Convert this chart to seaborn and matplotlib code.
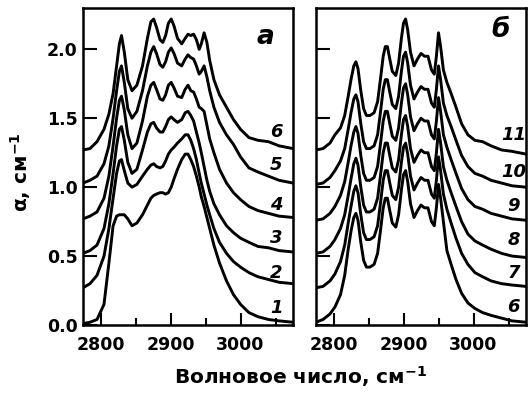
import numpy as np
import pandas as pd
import matplotlib
matplotlib.use('Agg')
import matplotlib.pyplot as plt
import seaborn as sns

# волновые числа, панель а
wn_a = [2775, 2785, 2795, 2805, 2812, 2818, 2823, 2827, 2830, 2834, 2839, 2845, 2852, 2860,
        2867, 2872, 2876, 2880, 2885, 2889, 2893, 2897, 2901, 2905, 2910, 2916, 2921, 2925,
        2929, 2933, 2937, 2941, 2944, 2948, 2952, 2956, 2962, 2970, 2980, 2990, 3000, 3012,
        3025, 3040, 3055, 3075]

a1 = [0.01, 0.02, 0.04, 0.15, 0.45, 0.72, 0.79, 0.80, 0.80, 0.80, 0.77, 0.72, 0.74, 0.80,
      0.87, 0.92, 0.94, 0.95, 0.96, 0.96, 0.95, 0.96, 1.00, 1.06, 1.13, 1.20, 1.24, 1.24,
      1.20, 1.15, 1.08, 1.00, 0.93, 0.86, 0.78, 0.70, 0.58, 0.45, 0.32, 0.22, 0.15, 0.09,
      0.06, 0.04, 0.03, 0.02]
a2 = [0.27, 0.30, 0.36, 0.50, 0.70, 0.92, 1.10, 1.19, 1.20, 1.12, 1.03, 1.00, 1.02, 1.08,
      1.13, 1.16, 1.17, 1.15, 1.14, 1.15, 1.19, 1.24, 1.27, 1.29, 1.32, 1.35, 1.38, 1.38,
      1.34, 1.28, 1.20, 1.10, 1.03, 0.95, 0.87, 0.80, 0.70, 0.60, 0.52, 0.46, 0.42, 0.38,
      0.35, 0.33, 0.31, 0.30]
a3 = [0.52, 0.54, 0.58, 0.70, 0.88, 1.10, 1.30, 1.42, 1.44, 1.34, 1.18, 1.10, 1.13, 1.27,
      1.40, 1.46, 1.47, 1.43, 1.40, 1.40, 1.44, 1.49, 1.51, 1.49, 1.47, 1.49, 1.54, 1.55,
      1.52, 1.48, 1.40, 1.32, 1.25, 1.15, 1.05, 0.97, 0.88, 0.80, 0.72, 0.67, 0.63, 0.60,
      0.57, 0.56, 0.54, 0.53]
a4 = [0.77, 0.79, 0.82, 0.92, 1.08, 1.30, 1.50, 1.63, 1.66, 1.56, 1.38, 1.28, 1.32, 1.48,
      1.66, 1.74, 1.76, 1.71, 1.64, 1.63, 1.67, 1.74, 1.76, 1.72, 1.66, 1.65, 1.71, 1.74,
      1.70, 1.69, 1.64, 1.58, 1.57, 1.55, 1.45, 1.35, 1.25, 1.13, 1.03, 0.96, 0.91, 0.86,
      0.83, 0.81, 0.79, 0.78]
a5 = [1.03, 1.05, 1.08, 1.17, 1.30, 1.50, 1.70, 1.84, 1.88, 1.76, 1.57, 1.50, 1.55, 1.70,
      1.88, 1.98, 2.02, 1.97, 1.89, 1.87, 1.91, 1.98, 2.01, 1.97, 1.90, 1.88, 1.93, 1.96,
      1.94, 1.93, 1.88, 1.82, 1.84, 1.88, 1.80, 1.70, 1.58, 1.47, 1.38, 1.31, 1.22, 1.14,
      1.11, 1.08, 1.05, 1.03]
a6 = [1.27, 1.28, 1.33, 1.42, 1.53, 1.68, 1.88, 2.04, 2.10, 1.98, 1.78, 1.70, 1.74, 1.88,
      2.08, 2.20, 2.22, 2.16, 2.07, 2.05, 2.10, 2.19, 2.22, 2.17, 2.08, 2.04, 2.08, 2.11,
      2.10, 2.11, 2.07, 2.00, 2.04, 2.12, 2.05, 1.92, 1.78, 1.67, 1.58, 1.49, 1.42, 1.36,
      1.34, 1.33, 1.30, 1.28]

# волновые числа, панель б
wn_b = [2775, 2785, 2795, 2802, 2810, 2816, 2821, 2825, 2829, 2832, 2835, 2839, 2843, 2847,
        2852, 2858, 2863, 2867, 2871, 2874, 2877, 2880, 2884, 2889, 2893, 2897, 2900, 2903,
        2906, 2910, 2915, 2920, 2925, 2930, 2935, 2940, 2944, 2947, 2950, 2953, 2957, 2962,
        2968, 2975, 2983, 2992, 3002, 3013, 3025, 3040, 3055, 3075]

b6 = [0.02, 0.04, 0.08, 0.13, 0.22, 0.36, 0.55, 0.68, 0.78, 0.81,
      0.76, 0.60, 0.47, 0.42, 0.42, 0.44, 0.52, 0.68, 0.85, 0.92, 0.92, 0.84, 0.74, 0.71,
      0.80, 0.98, 1.09, 1.12, 1.04, 0.88, 0.78, 0.83, 0.87, 0.85, 0.85, 0.75, 0.72, 0.85,
      1.02, 0.92, 0.75,
      0.54, 0.44, 0.33, 0.23, 0.16, 0.12, 0.09, 0.07, 0.05, 0.03, 0.02]
b7 = [0.27, 0.28, 0.32, 0.37, 0.46, 0.58, 0.74, 0.86, 0.97, 1.01,
      0.96, 0.80, 0.67, 0.62, 0.62, 0.64, 0.72, 0.88, 1.05, 1.12, 1.12, 1.04, 0.94, 0.91,
      1.00, 1.18, 1.29, 1.32, 1.24, 1.08, 0.98, 1.03, 1.07, 1.05, 1.05, 0.95, 0.92, 1.05,
      1.22, 1.12, 0.95,
      0.84, 0.74, 0.63, 0.52, 0.44, 0.38, 0.35, 0.32, 0.30, 0.29, 0.28]
b8 = [0.52, 0.53, 0.57, 0.62, 0.70, 0.80, 0.94, 1.06, 1.17, 1.21,
      1.16, 1.00, 0.87, 0.82, 0.82, 0.84, 0.92, 1.08, 1.25, 1.32, 1.32, 1.24, 1.14, 1.11,
      1.20, 1.38, 1.49, 1.52, 1.44, 1.28, 1.18, 1.23, 1.27, 1.25, 1.25, 1.15, 1.12, 1.25,
      1.42, 1.32, 1.15,
      1.05, 0.96, 0.86, 0.75, 0.66, 0.61, 0.58, 0.55, 0.52, 0.50, 0.49]
b9 = [0.76, 0.77, 0.81, 0.86, 0.94, 1.04, 1.18, 1.30, 1.40, 1.44,
      1.39, 1.23, 1.10, 1.05, 1.05, 1.07, 1.15, 1.31, 1.48, 1.55, 1.55, 1.47, 1.37, 1.34,
      1.43, 1.61, 1.72, 1.75, 1.67, 1.51, 1.41, 1.46, 1.50, 1.48, 1.48, 1.38, 1.35, 1.48,
      1.65, 1.55, 1.38,
      1.29, 1.20, 1.10, 0.99, 0.91, 0.86, 0.84, 0.81, 0.79, 0.77, 0.76]
b10 = [1.02, 1.03, 1.07, 1.12, 1.19, 1.28, 1.42, 1.54, 1.64, 1.67,
       1.62, 1.46, 1.33, 1.28, 1.28, 1.30, 1.38, 1.54, 1.71, 1.78, 1.78, 1.70, 1.60, 1.57,
       1.66, 1.84, 1.95, 1.98, 1.90, 1.74, 1.64, 1.69, 1.73, 1.71, 1.71, 1.61, 1.58, 1.71,
       1.88, 1.78, 1.61,
       1.52, 1.44, 1.34, 1.23, 1.15, 1.10, 1.08, 1.05, 1.03, 1.01, 1.00]
b11 = [1.27, 1.28, 1.32, 1.38, 1.43, 1.52, 1.66, 1.78, 1.88, 1.91,
       1.86, 1.70, 1.57, 1.52, 1.52, 1.54, 1.62, 1.78, 1.95, 2.02, 2.02, 1.94, 1.84, 1.81,
       1.90, 2.08, 2.19, 2.22, 2.14, 1.98, 1.88, 1.93, 1.97, 1.95, 1.95, 1.85, 1.82, 1.95,
       2.12, 2.02, 1.85,
       1.76, 1.68, 1.58, 1.46, 1.38, 1.34, 1.33, 1.30, 1.27, 1.26, 1.24]

labels_a = ['1', '2', '3', '4', '5', '6']
label_y_a = [0.12, 0.38, 0.63, 0.87, 1.16, 1.40]
labels_b = ['6', '7', '8', '9', '10', '11']
label_y_b = [0.13, 0.38, 0.62, 0.86, 1.11, 1.38]

sns.set_style('ticks')
plt.rcParams['font.family'] = ['DejaVu Sans']
plt.rcParams['font.weight'] = 'bold'
plt.rcParams['text.color'] = 'black'
plt.rcParams['xtick.color'] = 'black'
plt.rcParams['ytick.color'] = 'black'
plt.rcParams['mathtext.fontset'] = 'custom'
plt.rcParams['mathtext.rm'] = 'DejaVu Sans:bold'
plt.rcParams['mathtext.default'] = 'rm'

fig = plt.figure(figsize=(5.28, 3.94), dpi=100)
ax_a = fig.add_axes([83/528, 1 - 325/394, 210/528, 317/394])
ax_b = fig.add_axes([316/528, 1 - 325/394, 210/528, 317/394])

for ys in [a1, a2, a3, a4, a5, a6]:
    sns.lineplot(x=wn_a, y=ys, ax=ax_a, color='black', lw=2.1, sort=False)
for ys in [b6, b7, b8, b9, b10, b11]:
    sns.lineplot(x=wn_b, y=ys, ax=ax_b, color='black', lw=2.1, sort=False)

for ax in [ax_a, ax_b]:
    ax.set_xlim(2775, 3075)
    ax.set_ylim(0, 2.3)
    ax.set_xticks([2800, 2900, 3000])
    ax.set_xticks([2850, 2950, 3050], minor=True)
    ax.set_yticks([0.0, 0.5, 1.0, 1.5, 2.0])
    ax.tick_params(axis='x', which='major', direction='in', length=9, width=1.5,
                   labelsize=12.5, pad=8)
    ax.tick_params(axis='x', which='minor', direction='in', length=5, width=1.5)
    ax.tick_params(axis='y', which='major', direction='in', length=10, width=1.5,
                   labelsize=12.5, pad=4)
    for sp in ax.spines.values():
        sp.set_linewidth(1.8)
        sp.set_color('black')

ax_a.set_yticklabels(['0.0', '0.5', '1.0', '1.5', '2.0'])
ax_b.set_yticklabels([])

for t, yv in zip(labels_a, label_y_a):
    ax_a.text(3051, yv, t, fontsize=13, style='italic', ha='center', va='center')
for t, yv in zip(labels_b, label_y_b):
    ax_b.text(3057, yv, t, fontsize=13, style='italic', ha='center', va='center')

ax_a.text(0.87, 0.91, 'а', transform=ax_a.transAxes, fontsize=19, style='italic',
          ha='center', va='center')
ax_b.text(0.88, 0.93, 'б', transform=ax_b.transAxes, fontsize=19, style='italic',
          ha='center', va='center')

fig.text(21/528, 1 - 172/394, 'α, см$^{-1}$', fontsize=14.5, rotation=90,
         ha='center', va='center')
fig.text(301/528, 1 - 377/394, 'Волновое число, см$^{-1}$', fontsize=14.5,
         ha='center', va='center')

fig.savefig('out.png', dpi=100)
